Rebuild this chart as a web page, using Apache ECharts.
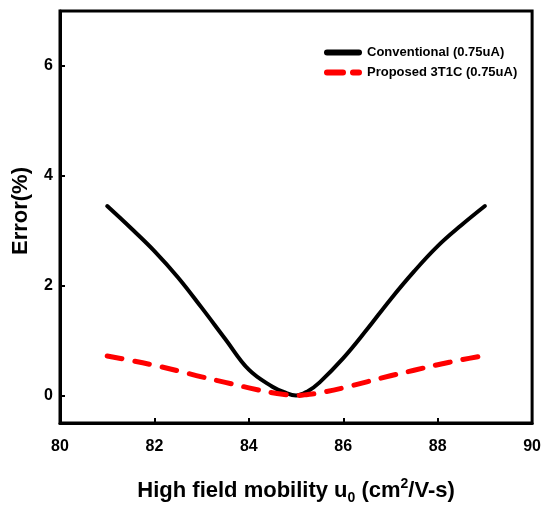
<!DOCTYPE html>
<html>
<head>
<meta charset="utf-8">
<script src="https://cdn.jsdelivr.net/npm/echarts@6/dist/echarts.min.js"></script>
<style>html,body{margin:0;padding:0;background:#fff}#c{width:544px;height:510px}</style>
</head>
<body>
<div id="c"></div>
<script>
const mobility = [81,81.5,82,82.5,83,83.5,84,84.5,84.75,85,85.25,85.5,86,86.5,87,87.5,88,88.5,89];
const conventional = [3.45,3.05,2.63,2.15,1.60,1.03,0.47,0.16,0.06,0.0,0.08,0.24,0.68,1.20,1.75,2.26,2.72,3.10,3.45];
const proposed = [0.72,0.64,0.55,0.45,0.34,0.24,0.14,0.05,0.02,0.0,0.02,0.05,0.14,0.25,0.36,0.46,0.56,0.65,0.73];
const yTicks = [0,2,4,6];
const seriesNames = ['Conventional (0.75uA)','Proposed 3T1C (0.75uA)'];

const FONT = 'Liberation Sans, Arial, sans-serif';
const chart = echarts.init(document.getElementById('c'), null, {renderer:'canvas'});
const pair = arr => mobility.map((x,i)=>[x,arr[i]]);
chart.setOption({
  animation:false,
  backgroundColor:'#fff',
  grid:{left:60,right:9,top:11,bottom:85,show:true,borderColor:'#000',borderWidth:3,containLabel:false},
  legend:{
    orient:'vertical', left:324, top:46, itemWidth:38, itemHeight:6, itemGap:7, padding:0,
    textStyle:{fontFamily:FONT,fontWeight:'bold',fontSize:13,color:'#000'},
    data:[
      {name:seriesNames[0], icon:'path://M3,0H35A3,3 0 0 1 35,6H3A3,3 0 0 1 3,0Z'},
      {name:seriesNames[1], icon:'path://M3,0H19A3,3 0 0 1 19,6H3A3,3 0 0 1 3,0Z M29,0H35A3,3 0 0 1 35,6H29A3,3 0 0 1 29,0Z'}
    ]
  },
  xAxis:{
    type:'value', min:80, max:90, interval:2,
    name:'High field mobility u{sub|0} (cm{sup|2}/V-s)',
    nameLocation:'middle', nameGap:54,
    nameTextStyle:{fontFamily:FONT,fontWeight:'bold',fontSize:22,color:'#000',
      rich:{
        sub:{fontFamily:FONT,fontWeight:'bold',fontSize:14,color:'#000',verticalAlign:'bottom',padding:[14,0,0,0]},
        sup:{fontFamily:FONT,fontWeight:'bold',fontSize:14,color:'#000',verticalAlign:'top',padding:[0,0,10,0]}
      }},
    axisLine:{show:true,onZero:false,lineStyle:{color:'#000',width:3}},
    axisTick:{show:true,inside:true,length:5,lineStyle:{color:'#000',width:2}},
    axisLabel:{fontFamily:FONT,fontWeight:'bold',fontSize:16,color:'#000',margin:16},
    splitLine:{show:false}
  },
  yAxis:{
    type:'value', min:-0.5, max:7,
    name:'Error(%)', nameLocation:'middle', nameGap:28,
    nameTextStyle:{fontFamily:FONT,fontWeight:'bold',fontSize:22,color:'#000',padding:[0,0,0,12]},
    axisLine:{show:true,onZero:false,lineStyle:{color:'#000',width:3}},
    axisTick:{show:true,inside:true,length:5,customValues:yTicks,lineStyle:{color:'#000',width:2}},
    axisLabel:{fontFamily:FONT,fontWeight:'bold',fontSize:16,color:'#000',margin:7,customValues:yTicks},
    splitLine:{show:false}
  },
  series:[
    {name:seriesNames[0],type:'line',data:pair(conventional),smooth:0.4,symbol:'none',
      lineStyle:{color:'#000',width:4,cap:'round',join:'round'},itemStyle:{color:'#000'},z:3},
    {name:seriesNames[1],type:'line',data:pair(proposed),smooth:0.4,symbol:'none',
      lineStyle:{color:'#ff0000',width:5,type:[15,13],cap:'round',join:'round'},itemStyle:{color:'#ff0000'},z:4}
  ]
});
</script>
</body>
</html>
